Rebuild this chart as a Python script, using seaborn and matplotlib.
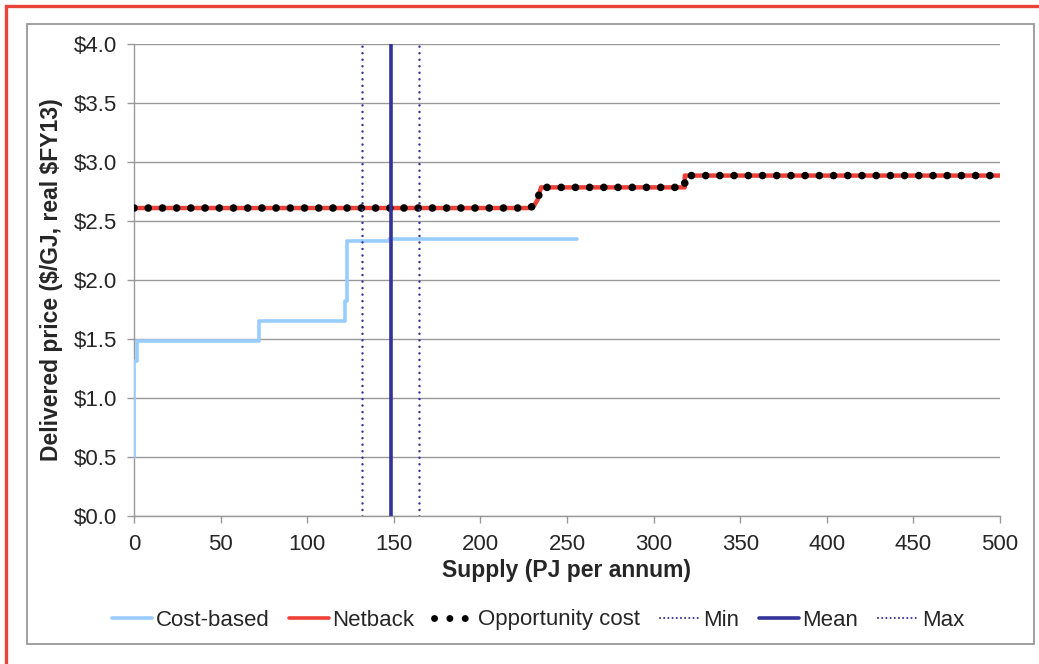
import matplotlib
matplotlib.use("Agg")
import matplotlib.pyplot as plt
import seaborn as sns
import pandas as pd
from matplotlib.patches import Rectangle
from matplotlib.lines import Line2D

# -------------------------------
# Data
# -------------------------------
cost_x = [0, 0, 1.7, 1.7, 72, 72, 122, 122, 123, 123, 147, 147, 256]
cost_y = [0.5, 1.31, 1.31, 1.48, 1.48, 1.65, 1.65, 1.82, 1.82, 2.33, 2.33, 2.345, 2.345]

netback_x = [0, 228, 231, 233, 235, 318, 318, 500]
netback_y = [2.61, 2.61, 2.63, 2.68, 2.785, 2.785, 2.885, 2.885]

supply_min = 131.5
supply_mean = 148.5
supply_max = 164.5

x_ticks = [0, 50, 100, 150, 200, 250, 300, 350, 400, 450, 500]
y_ticks = [0.0, 0.5, 1.0, 1.5, 2.0, 2.5, 3.0, 3.5, 4.0]

cost_df = pd.DataFrame({"supply": cost_x, "price": cost_y})
net_df = pd.DataFrame({"supply": netback_x, "price": netback_y})

# -------------------------------
# Style
# -------------------------------
sns.set_style("white")
plt.rcParams["font.family"] = ["Liberation Sans", "DejaVu Sans"]

c_cost = "#99CCFF"
c_net = "#EE4036"
c_navy = "#33339A"
fs = 16
fs_lab = 16.5

fig = plt.figure(figsize=(10.39, 6.64), dpi=100)
ax = fig.add_axes([134 / 1039, 1 - 516 / 664, 866 / 1039, 472 / 664])

# outer frames
W, H = 1039, 664
fig.patches.append(Rectangle((6 / W, -0.1), 1.2, (H - 6) / H + 0.1,
                             transform=fig.transFigure, fill=False,
                             edgecolor="#E8443A", linewidth=2.4, zorder=0))
fig.patches.append(Rectangle((27 / W, 1 - 644 / H), 1007 / W, 620 / H,
                             transform=fig.transFigure, fill=False,
                             edgecolor="#999999", linewidth=1.3, zorder=0))

# -------------------------------
# Lines
# -------------------------------
sns.lineplot(data=cost_df, x="supply", y="price", ax=ax, color=c_cost,
             linewidth=2.6, estimator=None, sort=False, zorder=3)
sns.lineplot(data=net_df, x="supply", y="price", ax=ax, color=c_net,
             linewidth=3.2, estimator=None, sort=False, zorder=4)
sns.lineplot(data=net_df, x="supply", y="price", ax=ax, color="black",
             linewidth=5.5, estimator=None, sort=False, zorder=5,
             linestyle=(0, (0.01, 1.85)), dash_capstyle="round")

ax.axvline(supply_min, color=c_navy, linewidth=1.8, linestyle=(0, (0.01, 2.6)),
           dash_capstyle="round", zorder=6)
ax.axvline(supply_mean, color=c_navy, linewidth=2.6, zorder=6)
ax.axvline(supply_max, color=c_navy, linewidth=1.8, linestyle=(0, (0.01, 2.6)),
           dash_capstyle="round", zorder=6)

# -------------------------------
# Axes
# -------------------------------
ax.set_xlim(0, 500)
ax.set_ylim(0, 4)
ax.set_xticks(x_ticks)
ax.set_yticks(y_ticks)
ax.set_yticklabels([f"\\${v:.1f}" for v in y_ticks])
ax.tick_params(axis="both", labelsize=fs, length=5, color="#999999", width=1,
               direction="out")
ax.tick_params(axis="x", bottom=True, pad=8)
ax.tick_params(axis="y", left=True, pad=7)
ax.yaxis.grid(True, color="#999999", linewidth=1)
ax.xaxis.grid(False)
for s in ["top", "right"]:
    ax.spines[s].set_visible(False)
for s in ["left", "bottom"]:
    ax.spines[s].set_color("#999999")
    ax.spines[s].set_linewidth(1)
ax.set_axisbelow(True)

ax.set_xlabel("Supply (PJ per annum)", fontsize=fs_lab, fontweight="bold", labelpad=3)
ax.set_ylabel("Delivered price (\\$/GJ, real \\$FY13)", fontsize=fs_lab,
              fontweight="bold", labelpad=8)

# -------------------------------
# Legend
# -------------------------------
handles = [
    Line2D([], [], color=c_cost, linewidth=2.6),
    Line2D([], [], color=c_net, linewidth=2.6),
    Line2D([], [], color="black", linewidth=5, linestyle=(0, (0.01, 2.2)),
           dash_capstyle="round"),
    Line2D([], [], color=c_navy, linewidth=1.5, linestyle=(0, (0.01, 2.0)),
           dash_capstyle="round"),
    Line2D([], [], color=c_navy, linewidth=2.6),
    Line2D([], [], color=c_navy, linewidth=1.5, linestyle=(0, (0.01, 2.0)),
           dash_capstyle="round"),
]
labels = ["Cost-based", "Netback", "Opportunity cost", "Min", "Mean", "Max"]
fig.legend(handles, labels, loc="center", bbox_to_anchor=(538 / W, 1 - 620 / H),
           ncol=6, frameon=False, fontsize=fs, handlelength=1.8,
           handletextpad=0.15, columnspacing=0.9)

fig.savefig("out.png", dpi=100)
